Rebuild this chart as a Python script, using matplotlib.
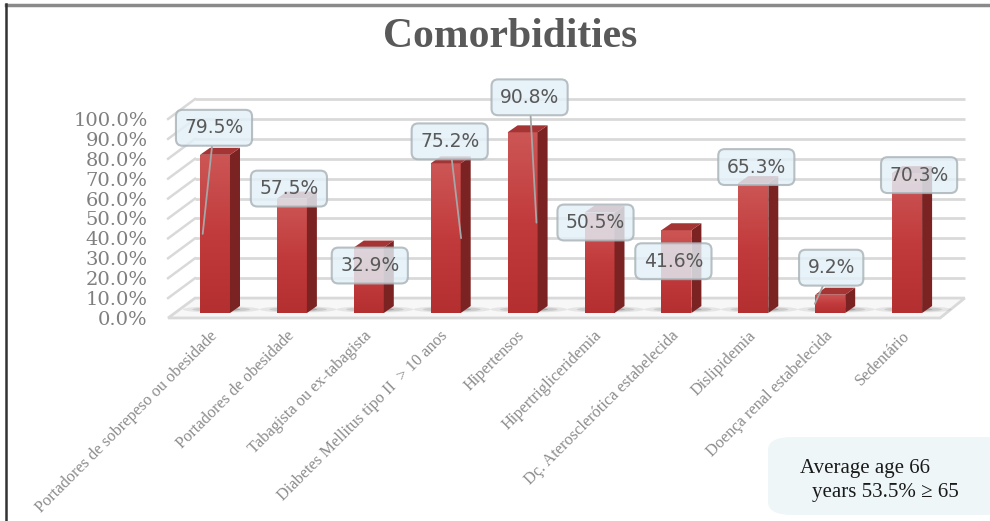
import matplotlib
matplotlib.use("Agg")
import matplotlib.pyplot as plt
import numpy as np
from matplotlib.patches import Polygon, FancyBboxPatch, Ellipse
from matplotlib.colors import LinearSegmentedColormap
from matplotlib.lines import Line2D
from matplotlib.transforms import offset_copy

# ---------------- data ----------------
categories = [
    "Portadores de sobrepeso ou obesidade",
    "Portadores de obesidade",
    "Tabagista ou ex-tabagista",
    "Diabetes Mellitus tipo II  > 10 anos",
    "Hipertensos",
    "Hipertrigliceridemia",
    "Dç. Aterosclerótica estabelecida",
    "Dislipidemia",
    "Doença renal estabelecida",
    "Sedentário",
]
values = [79.5, 57.5, 32.9, 75.2, 90.8, 50.5, 41.6, 65.3, 9.2, 70.3]
y_ticks = [0, 10, 20, 30, 40, 50, 60, 70, 80, 90, 100]
title = "Comorbidities"
note_lines = ["Average age 66", "years 53.5% \u2265 65"]

# ---------------- layout / style ----------------
W, H = 990, 521
fig = plt.figure(figsize=(W / 100, H / 100), dpi=100)

ax_left, ax_right, ax_top, ax_bottom = 160, 975, 90, 325
x0px, xstep = 215, 76.9
y0px, ystep = 313, 1.99
xlim = ((ax_left - x0px) / xstep, (ax_right - x0px) / xstep)
ylim = (-(ax_bottom - y0px) / ystep, (y0px - ax_top) / ystep)
ax = fig.add_axes([ax_left / W, 1 - ax_bottom / H,
                   (ax_right - ax_left) / W, (ax_bottom - ax_top) / H])
ax.set_xlim(xlim)
ax.set_ylim(ylim)
for s in ax.spines.values():
    s.set_visible(False)

grid_c = "#d9d9d9"
back_dy = 7.5      # back wall offset (data units)
front_dy = -2.5    # front edge offset
back_x0 = -0.26
front_x0 = -0.61
right_back = 9.75
right_front = 9.43

# floor
floor = Polygon([(front_x0, front_dy), (right_front, front_dy),
                 (right_back, back_dy), (back_x0, back_dy)],
                closed=True, facecolor="#f7f7f7", edgecolor=grid_c, lw=2, zorder=1)
ax.add_patch(floor)

# back wall grid lines + left side slants
for v in y_ticks:
    if v == 0:
        continue
    ax.plot([back_x0, right_back], [v + back_dy, v + back_dy], color=grid_c, lw=2, zorder=1,
            solid_capstyle="butt")
    ax.plot([front_x0, back_x0], [v + front_dy, v + back_dy], color=grid_c, lw=1.8, zorder=1)

x = np.arange(len(values))
bw = 0.39
depth_x = 0.13
depth_y = 3.5

# shadows
for xi in x:
    for k, a in zip([1.0, 0.75, 0.5], [0.10, 0.15, 0.25]):
        ax.add_patch(Ellipse((xi + 0.08, 1.8), 1.0 * k, 3.2 * k, facecolor="#404040",
                             edgecolor="none", alpha=a, zorder=2))

bars = ax.bar(x, values, width=bw, color="#c0393b", zorder=3, linewidth=0)
grad = LinearSegmentedColormap.from_list("g", ["#b42f30", "#c23b3c", "#cc5655"])
gimg = np.linspace(0, 1, 100).reshape(-1, 1)
for b, xi, v in zip(bars, x, values):
    im = ax.imshow(gimg, cmap=grad, origin="lower", aspect="auto",
                   extent=(xi - bw / 2, xi + bw / 2, 0, v), zorder=3.1)
    im.set_clip_path(b)
    xr = xi + bw / 2
    xl = xi - bw / 2
    side = Polygon([(xr, 0), (xr + depth_x, depth_y), (xr + depth_x, v + depth_y), (xr, v)],
                   closed=True, facecolor="#7b2222", edgecolor="none", zorder=3.2)
    top = Polygon([(xl, v), (xr, v), (xr + depth_x, v + depth_y), (xl + depth_x, v + depth_y)],
                  closed=True, facecolor="#a53434", edgecolor="none", zorder=3.2)
    ax.add_patch(side)
    ax.add_patch(top)
ax.set_xlim(xlim)
ax.set_ylim(ylim)

# data labels (offsets in pixels relative to bar top centre)
label_offsets = [(-1, 27), (-3, 10), (1, -18), (4, 22), (7, 35),
                 (-4, -10), (-3, -31), (3, 16), (1, 27), (12, -2)]
leader_dx = {0: -0.16, 3: 0.2, 4: 0.18, 8: -0.2}
for i, (xi, v) in enumerate(zip(x, values)):
    dx, dy = label_offsets[i]
    bbox = dict(boxstyle="round,pad=0.45,rounding_size=0.35", facecolor="#e2f0f8",
                edgecolor="#a9b3b7", lw=1.5, alpha=0.82)
    txt_tr = offset_copy(ax.transData, fig=fig, x=dx, y=dy, units="dots")
    kw = dict(ha="center", va="center", fontsize=13.5, color="#595959",
              bbox=bbox, zorder=6)
    if i in leader_dx:
        ax.annotate(f"{v:.1f}%", xy=(xi + leader_dx[i], v / 2), xycoords="data",
                    xytext=(xi, v), textcoords=txt_tr,
                    arrowprops=dict(arrowstyle="-", color="#a6a6a6", lw=1.3,
                                    shrinkA=0, shrinkB=0), **kw)
    else:
        ax.annotate(f"{v:.1f}%", xy=(xi, v), xycoords="data",
                    xytext=(xi, v), textcoords=txt_tr, **kw)

# axes ticks
ax.set_yticks([v + front_dy for v in y_ticks])
ax.set_yticklabels([f"{v:.1f}%" for v in y_ticks], fontfamily="DejaVu Serif",
                   fontsize=14, color="#7f7f7f")
ax.set_xticks(x)
ax.set_xticklabels(categories, rotation=45, ha="right", va="center",
                   rotation_mode="anchor", fontfamily="Liberation Serif",
                   fontsize=11.8, color="#8c8c8c")
ax.tick_params(axis="both", length=0)
ax.tick_params(axis="y", pad=9)
ax.tick_params(axis="x", pad=6)

# title
fig.text(510 / W, 1 - 37 / H, title, ha="center", va="center", fontsize=30,
         fontweight="bold", fontfamily="Liberation Serif", color="#595959")

# note box
note = FancyBboxPatch((768 / W, 1 - 515 / H), 240 / W, 78 / H,
                      boxstyle="round,pad=0,rounding_size=0.025",
                      transform=fig.transFigure, facecolor="#eef6f8",
                      edgecolor="none", zorder=0)
fig.patches.append(note)
fig.text(800 / W, 1 - 468 / H, note_lines[0], ha="left", va="center",
         fontsize=15, fontfamily="Liberation Serif", color="#1a1a1a")
fig.text(812 / W, 1 - 493 / H, note_lines[1], ha="left", va="center",
         fontsize=15, fontfamily="Liberation Serif", color="#1a1a1a")

# outer frame
fig.add_artist(Line2D([6 / W, 1], [1 - 4.5 / H, 1 - 4.5 / H], transform=fig.transFigure,
                      color="#8a8a8a", lw=2.5))
fig.add_artist(Line2D([6 / W, 6 / W], [0, 1 - 4 / H], transform=fig.transFigure,
                      color="#333333", lw=1.8))

fig.savefig("out.png", dpi=100)
